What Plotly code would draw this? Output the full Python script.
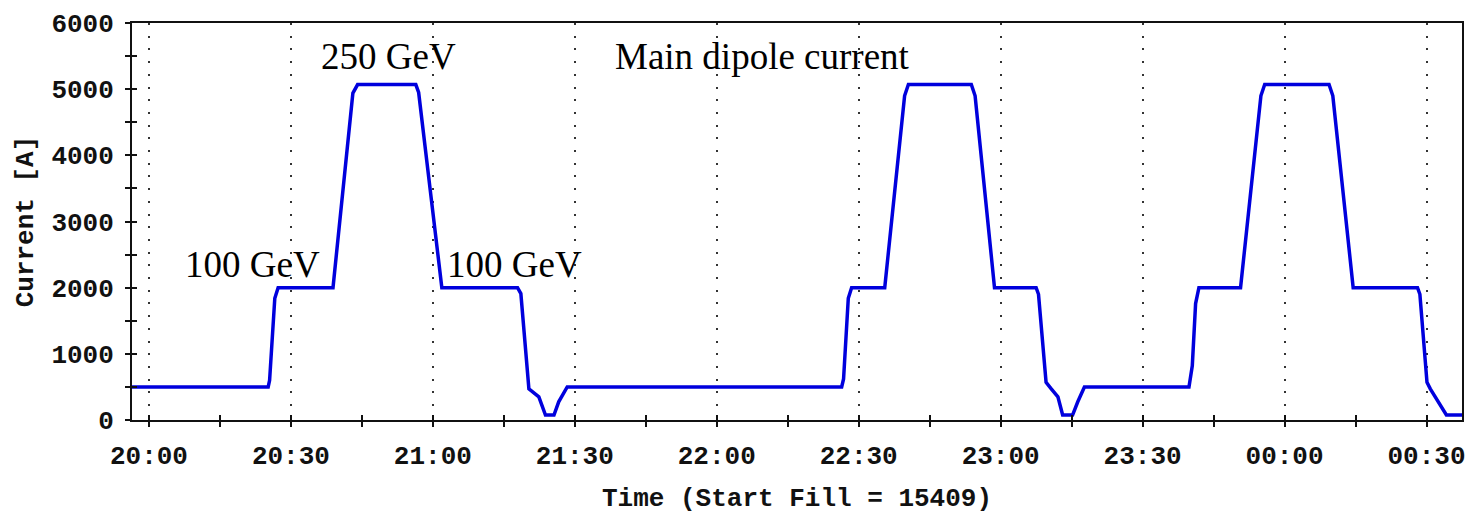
import plotly.graph_objects as go

# Main dipole current during a fill: time in minutes after 20:00, current in A
minutes = [
    -3.6, 25.2, 25.5, 26.6, 27.3,
    38.9, 43.1, 44.1, 56.4, 57.0, 61.9,
    77.9, 78.6, 80.3, 82.4, 83.8, 85.6, 86.6, 88.4,
    146.4, 146.8, 147.8, 148.5,
    155.5, 159.7, 160.5, 173.8, 174.6, 178.7,
    187.5, 188.0, 189.6, 190.7, 192.1, 193.1, 195.2, 196.3, 197.7,
    219.8, 220.5, 221.2, 221.9,
    230.7, 235.0, 235.8, 249.4, 250.2, 254.5,
    268.1, 268.6, 270.1, 270.8, 274.2, 277.5,
]
current_A = [
    500, 500, 600, 1840, 2000,
    2000, 4940, 5070, 5070, 4950, 2000,
    2000, 1910, 470, 350, 75, 75, 275, 500,
    500, 620, 1840, 2000,
    2000, 4900, 5070, 5070, 4900, 2000,
    2000, 1900, 570, 470, 350, 75, 75, 275, 500,
    500, 820, 1760, 2000,
    2000, 4900, 5070, 5070, 4900, 2000,
    2000, 1900, 570, 470, 75, 75,
]

tick_labels = ["20:00", "20:30", "21:00", "21:30", "22:00",
               "22:30", "23:00", "23:30", "00:00", "00:30"]

# Beam energy notes placed on the curve
note_text = ["100 GeV", "250 GeV", "100 GeV", "Main dipole current"]
note_min = [21.8, 50.6, 77.3, 129.7]
note_amp = [2350, 5500, 2350, 5500]

x_range = [-3.58, 277.5]
major_vals = [30 * i for i in range(len(tick_labels))]
minor_vals = [15 + 30 * i for i in range(len(tick_labels))]

mono = dict(family="Liberation Mono", size=26, color="#111", weight="bold")
ink = "#111"

fig = go.Figure()
fig.add_trace(go.Scatter(
    x=minutes, y=current_A, mode="lines",
    line=dict(color="#0000dd", width=3.5),
    showlegend=False, hoverinfo="skip",
))
# empty trace that carries the inward-facing tick axes
fig.add_trace(go.Scatter(x=[], y=[], xaxis="x2", yaxis="y2",
                         showlegend=False, hoverinfo="skip"))

for txt, xm, ya in zip(note_text, note_min, note_amp):
    fig.add_annotation(x=xm, y=ya, text=txt, showarrow=False,
                       xanchor="center", yanchor="middle",
                       font=dict(family="Liberation Serif", size=37, color="#000"))

fig.update_layout(
    width=1475, height=517,
    margin=dict(l=132, r=10, t=18, b=95),
    paper_bgcolor="white", plot_bgcolor="white",
    xaxis=dict(
        range=x_range, tickmode="array", tickvals=major_vals, ticktext=tick_labels,
        ticks="outside", ticklen=5, tickwidth=2, tickcolor=ink,
        minor=dict(tickmode="array", tickvals=minor_vals, ticks="outside",
                   ticklen=5, tickwidth=2, tickcolor=ink, showgrid=False),
        showgrid=True, gridcolor="#333", gridwidth=2, griddash="2px,10.7px",
        showline=True, linewidth=2, linecolor=ink, mirror=True, zeroline=False,
        tickfont=mono, ticklabelstandoff=6,
        title=dict(text="Time (Start Fill = 15409)", font=mono, standoff=17),
    ),
    xaxis2=dict(
        overlaying="x", matches="x", anchor="y2", side="bottom",
        tickmode="array", tickvals=major_vals,
        ticks="inside", ticklen=5, tickwidth=2, tickcolor=ink,
        minor=dict(tickmode="array", tickvals=minor_vals, ticks="inside",
                   ticklen=5, tickwidth=2, tickcolor=ink, showgrid=False),
        showticklabels=False, showgrid=False, showline=False, zeroline=False,
    ),
    yaxis=dict(
        range=[0, 6000], tickmode="linear", tick0=0, dtick=1000,
        ticks="outside", ticklen=5, tickwidth=2, tickcolor=ink,
        minor=dict(dtick=500, ticks="outside", ticklen=5, tickwidth=2,
                   tickcolor=ink, showgrid=False),
        showgrid=False, showline=True, linewidth=2, linecolor=ink,
        mirror=True, zeroline=False,
        tickfont=mono, ticklabelstandoff=6,
        title=dict(text="Current [A]", font=mono, standoff=10),
    ),
    yaxis2=dict(
        overlaying="y", matches="y", anchor="x2", side="left",
        tickmode="linear", tick0=0, dtick=1000,
        ticks="inside", ticklen=5, tickwidth=2, tickcolor=ink,
        minor=dict(dtick=500, ticks="inside", ticklen=5, tickwidth=2,
                   tickcolor=ink, showgrid=False),
        showticklabels=False, showgrid=False, showline=False, zeroline=False,
    ),
)

fig.write_html("out.html")
